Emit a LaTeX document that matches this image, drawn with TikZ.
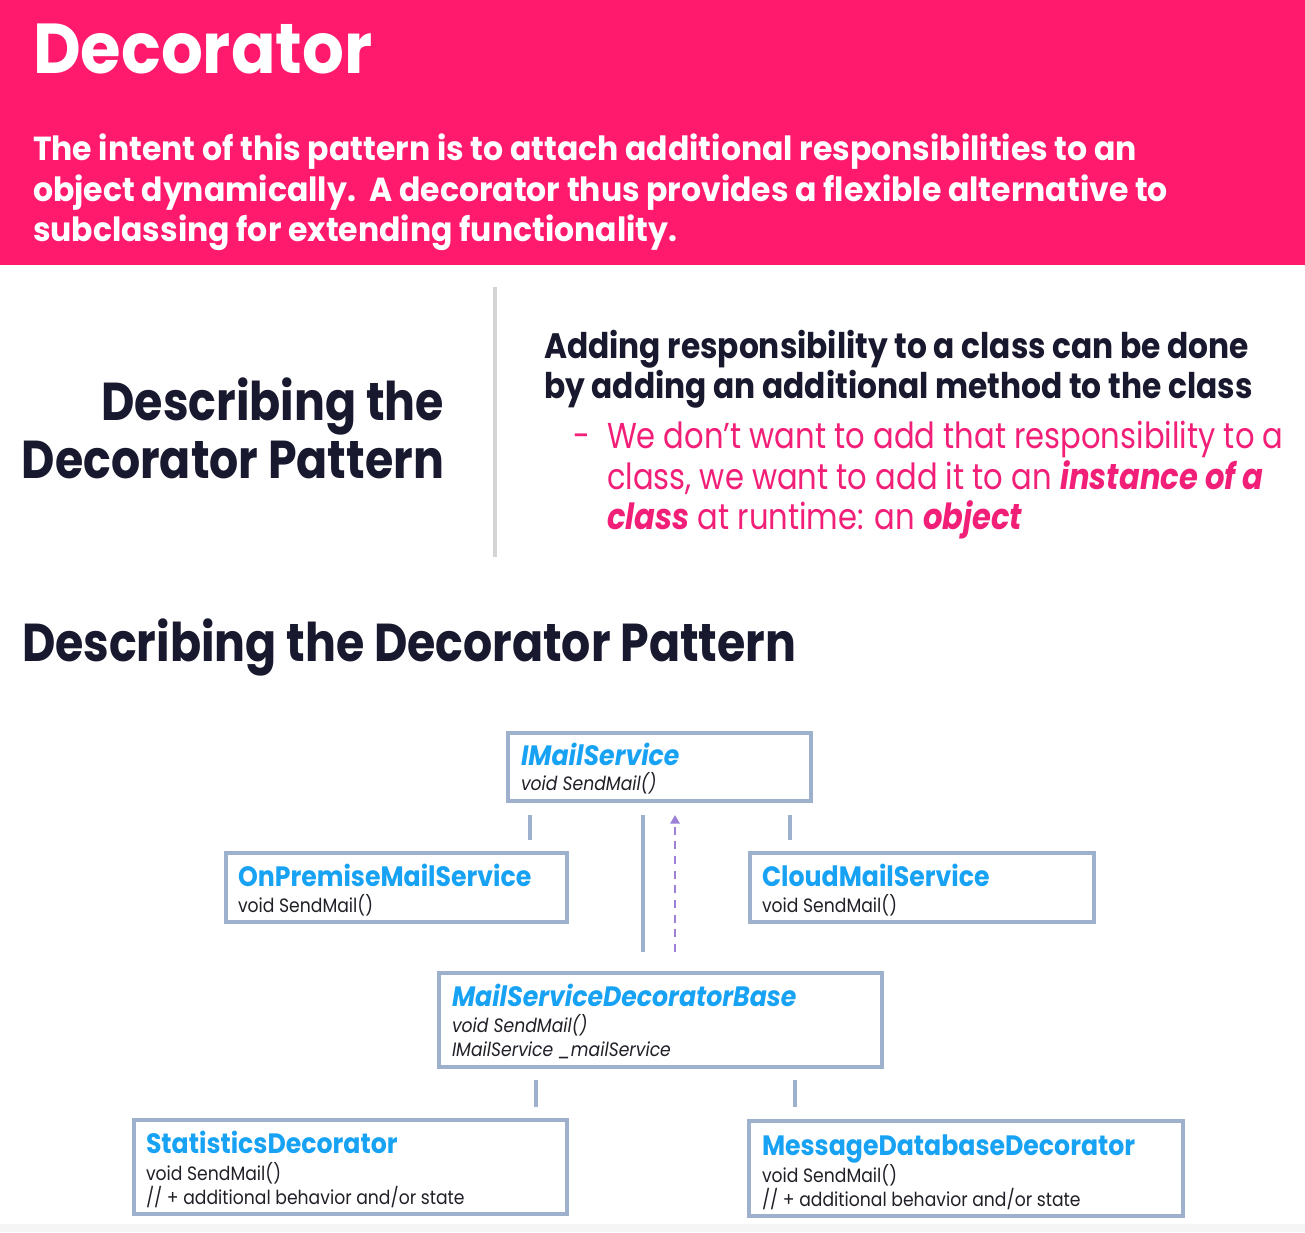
\documentclass[tikz,border=0pt]{standalone}
\usepackage{fontspec}
\setmainfont{Poppins}
\newfontfamily\fA[FakeStretch=0.93]{Poppins}
\newfontfamily\fB[FakeStretch=0.945]{Poppins}
\newfontfamily\fC[FakeStretch=0.86]{Poppins}
\newfontfamily\fD[FakeStretch=0.885]{Poppins}
\newfontfamily\fE[FakeStretch=0.85]{Poppins}
\newfontfamily\fF[FakeStretch=0.90]{Poppins}
\newfontfamily\fG[FakeStretch=0.89]{Poppins}
\usetikzlibrary{fit,arrows.meta}
\definecolor{pk}{HTML}{FF1A6E}
\definecolor{pktext}{HTML}{F21F78}
\definecolor{navy}{HTML}{18182E}
\definecolor{azure}{HTML}{17A2F4}
\definecolor{bord}{HTML}{9DB1CC}
\definecolor{purp}{HTML}{9B80D6}
\definecolor{divg}{HTML}{D4D4D4}
\definecolor{dk}{HTML}{202028}
\tikzset{
  every node/.style={inner sep=0pt, outer sep=0pt},
  txt/.style={anchor=base west},
  box/.style={draw=bord, line width=2.5pt, inner sep=0pt},
  ttl/.style={anchor=base west, text=azure, font=\fF\fontsize{21}{24}\selectfont\bfseries},
  ttli/.style={anchor=base west, text=azure, font=\fF\fontsize{21}{24}\selectfont\bfseries\itshape},
  body/.style={anchor=base west, text=dk, font=\fG\fontsize{14.5}{17}\selectfont},
  bodyi/.style={anchor=base west, text=dk, font=\fG\fontsize{14.5}{17}\selectfont\itshape},
  conn/.style={draw=bord, line width=2.5pt},
  dconn/.style={draw=purp, line width=2.2pt, dash pattern=on 6pt off 5pt, -{Triangle[width=7pt,length=6.5pt]}}
}
\begin{document}
\begin{tikzpicture}[x=0.75pt,y=-0.75pt]
\useasboundingbox (0,0) rectangle (1305,1232);
\fill[white] (0,0) rectangle (1305,1232);
\fill[pk] (0,0) rectangle (1305,265);
\fill[black!4] (0,1224) rectangle (1305,1232);

% header
\node[txt, text=white, font=\fA\fontsize{53}{60}\selectfont\bfseries] (title) at (33,73) {Decorator};
\node[txt, text=white, font=\fB\fontsize{25}{30}\selectfont\bfseries] (int1) at (33,160) {The intent of this pattern is to attach additional responsibilities to an};
\node[txt, text=white, font=\fB\fontsize{25}{30}\selectfont\bfseries] (int2) at (33,201) {object dynamically.\ \ A decorator thus provides a flexible alternative to};
\node[txt, text=white, font=\fB\fontsize{25}{30}\selectfont\bfseries] (int3) at (33,241) {subclassing for extending functionality.};

% left heading
\node[anchor=base east, text=navy, font=\fC\fontsize{40}{46}\selectfont\bfseries] (lh1) at (444,420) {Describing the};
\node[anchor=base east, text=navy, font=\fC\fontsize{40}{46}\selectfont\bfseries] (lh2) at (444,478) {Decorator Pattern};

% divider
\fill[divg] (493,287) rectangle (497,557);

% right text
\node[txt, text=navy, font=\fD\fontsize{26.5}{30}\selectfont\bfseries] (rt1) at (544,358) {Adding responsibility to a class can be done};
\node[txt, text=navy, font=\fD\fontsize{26.5}{30}\selectfont\bfseries] (rt2) at (544,398) {by adding an additional method to the class};
\node[txt, text=pktext, font=\fE\fontsize{27}{30}\selectfont] (dash) at (573,448) {-};
\node[txt, text=pktext, font=\fE\fontsize{27}{30}\selectfont] (pt1) at (607,448) {We don’t want to add that responsibility to a};
\node[txt, text=pktext, font=\fE\fontsize{27}{30}\selectfont] (pt2) at (607,489) {class, we want to add it to an \textbf{\textit{instance of a}}};
\node[txt, text=pktext, font=\fE\fontsize{27}{30}\selectfont] (pt3) at (607,529) {\textbf{\textit{class}} at runtime: an \textbf{\textit{object}}};

% second heading
\node[txt, text=navy, font=\fC\fontsize{40}{46}\selectfont\bfseries] (h2) at (22,661) {Describing the Decorator Pattern};

% boxes
\node[box, fit={(508,733) (811,801)}] (imail) {};
\node[ttli] (imailT) at (521,765) {IMailService};
\node[bodyi] (imailB) at (521,790) {void SendMail()};

\node[box, fit={(226,853) (567,922)}] (onprem) {};
\node[ttl] (onpremT) at (238,886) {OnPremiseMailService};
\node[body] (onpremB) at (238,912) {void SendMail()};

\node[box, fit={(750,853) (1094,922)}] (cloud) {};
\node[ttl] (cloudT) at (762,886) {CloudMailService};
\node[body] (cloudB) at (762,912) {void SendMail()};

\node[box, fit={(439,973) (882,1067)}] (base) {};
\node[ttli] (baseT) at (452,1006) {MailServiceDecoratorBase};
\node[bodyi] (baseB1) at (452,1032) {void SendMail()};
\node[bodyi] (baseB2) at (452,1056) {IMailService \_mailService};

\node[box, fit={(134,1120) (567,1214)}] (stat) {};
\node[ttl] (statT) at (146,1153) {StatisticsDecorator};
\node[body] (statB1) at (146,1180) {void SendMail()};
\node[body] (statB2) at (146,1204) {// + additional behavior and/or state};

\node[box, fit={(749,1121) (1183,1216)}] (msg) {};
\node[ttl] (msgT) at (762,1155) {MessageDatabaseDecorator};
\node[body] (msgB1) at (762,1182) {void SendMail()};
\node[body] (msgB2) at (762,1206) {// + additional behavior and/or state};

% connector coordinates
\coordinate (c1a) at (530,815); \coordinate (c1b) at (530,840);
\coordinate (c2a) at (790,815); \coordinate (c2b) at (790,840);
\coordinate (c3a) at (643,815); \coordinate (c3b) at (643,952);
\coordinate (d1a) at (675,952); \coordinate (d1b) at (675,815);
\coordinate (c4a) at (536,1080); \coordinate (c4b) at (536,1107);
\coordinate (c5a) at (795,1080); \coordinate (c5b) at (795,1107);

\draw[conn] (c1a) -- (c1b);
\draw[conn] (c2a) -- (c2b);
\draw[conn] (c3a) -- (c3b);
\draw[dconn] (d1a) -- (d1b);
\draw[conn] (c4a) -- (c4b);
\draw[conn] (c5a) -- (c5b);
\end{tikzpicture}
\end{document}
